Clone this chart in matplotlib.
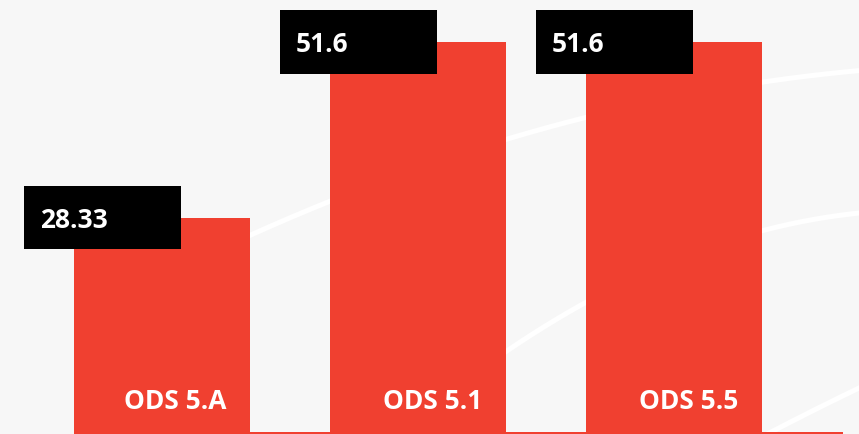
"""Bar chart of ODS 5 indicators with black value tags."""

import matplotlib.pyplot as plt
import numpy as np
from matplotlib.patches import Rectangle

categories = ["ODS 5.A", "ODS 5.1", "ODS 5.5"]
values = [28.33, 51.6, 51.6]
value_labels = ["28.33", "51.6", "51.6"]

BAR_COLOR = "#f04030"
BG_COLOR = "#f7f7f7"
W, H, DPI = 859, 434, 100

# pixel geometry of the layout
PX_PER_UNIT = 390 / 51.6      # vertical scale
PX_PER_SLOT = 256             # horizontal distance between bar centers
FIRST_CENTER_PX = 162
BASE_PX = 432                 # y of the zero line, measured from the top


def px_x(px):
    return (px - FIRST_CENTER_PX) / PX_PER_SLOT


plt.rcParams["font.family"] = ["Open Sans", "DejaVu Sans"]

fig = plt.figure(figsize=(W / DPI, H / DPI), dpi=DPI, facecolor=BG_COLOR)
ax = fig.add_axes([0, 0, 1, 1])
ax.set_facecolor(BG_COLOR)
ax.set_xlim(px_x(0), px_x(W))
ax.set_ylim(-(H - BASE_PX) / PX_PER_UNIT, BASE_PX / PX_PER_UNIT)
ax.axis("off")

# decorative white arcs in the background (figure pixel coords, y from top)
arcs = [
    [(251, 240), (328, 195), (507, 138), (586, 120), (763, 85), (859, 68)],
    [(420, 420), (507, 347), (586, 298), (763, 240), (859, 208)],
    [(700, 470), (775, 430), (859, 388)],
]
for pts in arcs:
    xs = np.array([p[0] for p in pts], dtype=float)
    ys = np.array([p[1] for p in pts], dtype=float)
    coef = np.polyfit(xs, ys, min(2, len(xs) - 1))
    xx = np.linspace(xs[0] - 40, W + 10, 200)
    yy = np.polyval(coef, xx)
    ax.plot(xx, H - yy, color="white", lw=3.6, transform=None, zorder=1,
            solid_capstyle="butt")

x = np.arange(len(categories))
bar_w = 176 / PX_PER_SLOT
ax.bar(x, values, width=bar_w, color=BAR_COLOR, zorder=2)

# red baseline under the bars
ax.axhspan(-(H - BASE_PX) / PX_PER_UNIT, 0, xmin=74 / W, xmax=843 / W,
           color=BAR_COLOR, lw=0, zorder=2)

box_w = 157 / PX_PER_SLOT
box_h = 63 / PX_PER_UNIT
for xi, v, lab, cat in zip(x, values, value_labels, categories):
    left = xi - bar_w / 2 - 50 / PX_PER_SLOT
    ax.add_patch(Rectangle((left, v - box_h / 2), box_w, box_h,
                           facecolor="black", edgecolor="none", zorder=3))
    ax.text(left + 16 / PX_PER_SLOT, v - 10 / PX_PER_UNIT, lab,
            color="white", fontsize=19, fontweight="bold",
            ha="left", va="baseline", zorder=4)
    ax.text(xi + bar_w / 2 - 24 / PX_PER_SLOT, (BASE_PX - 409) / PX_PER_UNIT, cat,
            color="white", fontsize=19, fontweight="bold",
            ha="right", va="baseline", zorder=4)

fig.savefig("out.png", dpi=DPI, facecolor=BG_COLOR)
